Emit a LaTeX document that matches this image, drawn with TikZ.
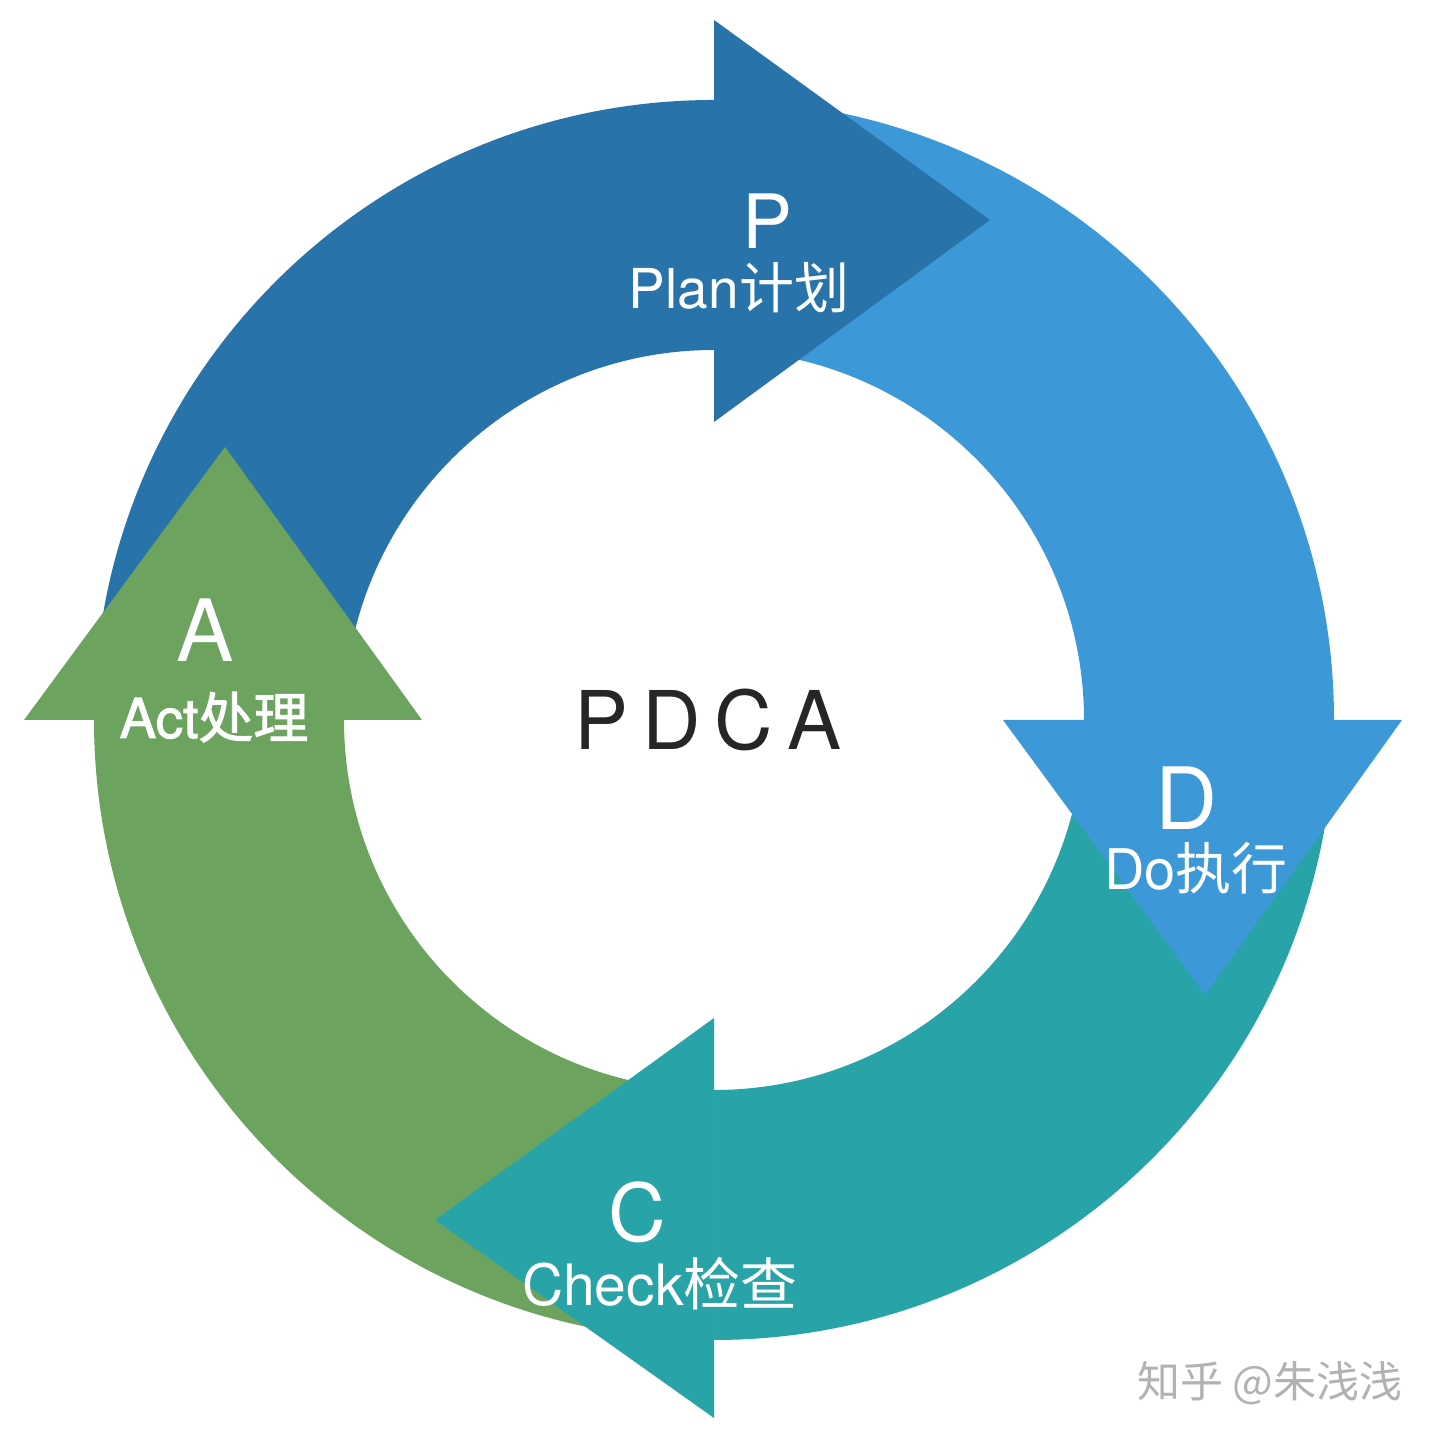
\documentclass[tikz,border=0pt]{standalone}
\usepackage{fontspec}
\setmainfont{TeX Gyre Heros}
\newfontfamily\cjk{Noto Sans CJK SC}
\newfontfamily\heroshb[FakeBold=1.6]{TeX Gyre Heros}
\newfontfamily\cjkhb[FakeBold=1.6]{Noto Sans CJK SC}
\usetikzlibrary{calc}
\definecolor{cP}{HTML}{2873A9}
\definecolor{cD}{HTML}{3D98D7}
\definecolor{cC}{HTML}{28A4A8}
\definecolor{cA}{HTML}{6CA45F}
\newcommand{\fs}[1]{\fontsize{#1}{#1}\selectfont}
\begin{document}
\begin{tikzpicture}[x=1pt,y=1pt,
  lbl/.style={text=white,anchor=base,inner sep=0pt}]
\useasboundingbox (0,0) rectangle (1443,1440);
\coordinate (c) at (714,720);
% ring segments
\foreach \a/\b/\col in {180/90/cP, 90/0/cD, 0/-90/cC, -90/-180/cA}{
  \fill[\col] ($(c)+(\a:620)$) arc[start angle=\a,end angle=\b,radius=620]
    -- ($(c)+(\b:370)$) arc[start angle=\b,end angle=\a,radius=370] -- cycle;
}
% arrowheads
\fill[cP] (714,1420) -- (990,1220) -- (714,1018) -- cycle;
\fill[cD] (1003,720) -- (1402,720) -- (1205,445) -- cycle;
\fill[cC] (714,422) -- (435,220) -- (714,22) -- cycle;
\fill[cA] (24,720) -- (422,720) -- (225,993) -- cycle;
% labels
\node[lbl] (p) at (768,1191) {\fs{75}P};
\node[lbl] (pt) at (739,1131) {\fs{55}Plan{\cjk 计划}};
\node[lbl] (d) at (1187,610) {\fs{86}D};
\node[lbl] (dt) at (1196,550) {\fs{56}Do{\cjk 执行}};
\node[lbl] (cl) at (637,198) {\fs{80}C};
\node[lbl] (ct) at (660,134) {\fs{57}Check{\cjk 检查}};
\node[lbl] (a) at (205,778) {\fs{86}A};
\node[lbl] (at) at (214,702) {\fs{55}\heroshb Act{\cjkhb 处理}};
\node[anchor=base,inner sep=0pt,text=black!85] (pdca) at (708,690)
  {\fs{81}P\kern14pt D\kern14pt C\kern14pt A};
\node[anchor=base,inner sep=0pt,text=black!30] (wm) at (1270,42)
  {\fs{43}\cjk 知乎 @朱浅浅};
\end{tikzpicture}
\end{document}
